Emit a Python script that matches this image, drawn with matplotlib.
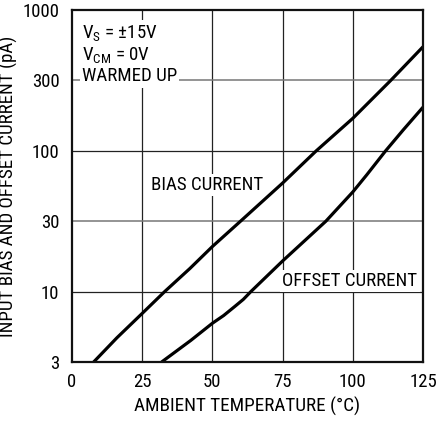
import matplotlib
matplotlib.use("Agg")
import matplotlib.pyplot as plt

plt.rcParams["font.family"] = ["Roboto Condensed", "DejaVu Sans"]
plt.rcParams["mathtext.fontset"] = "custom"
plt.rcParams["mathtext.rm"] = "Roboto Condensed"

# values (y axis: half decades drawn evenly, so "3" sits at sqrt(10))
bias_temp = [7.7, 16, 25, 33, 42, 50, 60, 75, 87, 100, 113.5, 125]
bias_pa = [3.16, 4.7, 7.0, 10.0, 14.6, 20.9, 31.6, 59, 100, 170, 316, 548]

offset_temp = [31.9, 42.3, 50, 54, 58, 61, 63.7, 75, 90.4, 100, 105, 111.7, 118, 125]
offset_pa = [3.16, 4.5, 5.96, 6.76, 7.85, 8.8, 10.0, 16.5, 31.6, 51, 67.6, 100, 141, 204]

x_ticks = [0, 25, 50, 75, 100, 125]
y_ticks = [10 ** 0.5, 10, 10 ** 1.5, 100, 10 ** 2.5, 1000]
y_labels = ["3", "10", "30", "100", "300", "1000"]


def main():
    fig = plt.figure(figsize=(4.38, 4.23), dpi=100)
    ax = fig.add_axes([72 / 438, 61 / 423, 351 / 438, 352 / 423])

    ax.set_yscale("log")
    ax.set_xlim(0, 125)
    ax.set_ylim(10 ** 0.5, 1000)

    # grid
    for t in x_ticks[1:-1]:
        ax.axvline(t, color="#222222", linewidth=0.9, zorder=1)
    for i, v in enumerate(y_ticks[1:-1]):
        col = "#222222" if i % 2 == 0 else "#777777"
        ax.axhline(v, color=col, linewidth=0.9 if i % 2 == 0 else 1.1, zorder=1)

    ax.plot(bias_temp, bias_pa, color="black", linewidth=2.3, zorder=3,
            solid_capstyle="butt", solid_joinstyle="round")
    ax.plot(offset_temp, offset_pa, color="black", linewidth=2.3, zorder=3,
            solid_capstyle="butt", solid_joinstyle="round")

    ax.set_xticks(x_ticks)
    ax.set_yticks(y_ticks)
    ax.set_yticklabels(y_labels)
    ax.minorticks_off()
    ax.tick_params(axis="both", length=0, labelsize=13.5)
    ax.tick_params(axis="y", pad=9)
    ax.tick_params(axis="x", pad=8)

    for s in ax.spines.values():
        s.set_linewidth(1.6)
        s.set_color("#111111")
        s.set_zorder(4)

    box = dict(facecolor="white", edgecolor="none", pad=1.5)
    ax.text(0.028, 0.962, "V$_\\mathregular{S}$ = \u00b115V\nV$_\\mathregular{CM}$ = 0V\nWARMED UP",
            transform=ax.transAxes, fontsize=13.6, ha="left", va="top",
            linespacing=1.12, bbox=box, zorder=2)
    ax.text(28.0, 10 ** 1.722, "BIAS CURRENT", fontsize=13.6, ha="left", va="baseline",
            bbox=box, zorder=2)
    ax.text(74.9, 10 ** 1.04, "OFFSET CURRENT", fontsize=13.6, ha="left", va="baseline",
            bbox=box, zorder=2)

    ax.set_xlabel("AMBIENT TEMPERATURE (\u00b0C)", fontsize=13.8, labelpad=4)
    ax.set_ylabel("INPUT BIAS AND OFFSET CURRENT (pA)", fontsize=13.6, labelpad=3)

    fig.savefig("out.png", dpi=100)
    plt.close(fig)


if __name__ == "__main__":
    main()
